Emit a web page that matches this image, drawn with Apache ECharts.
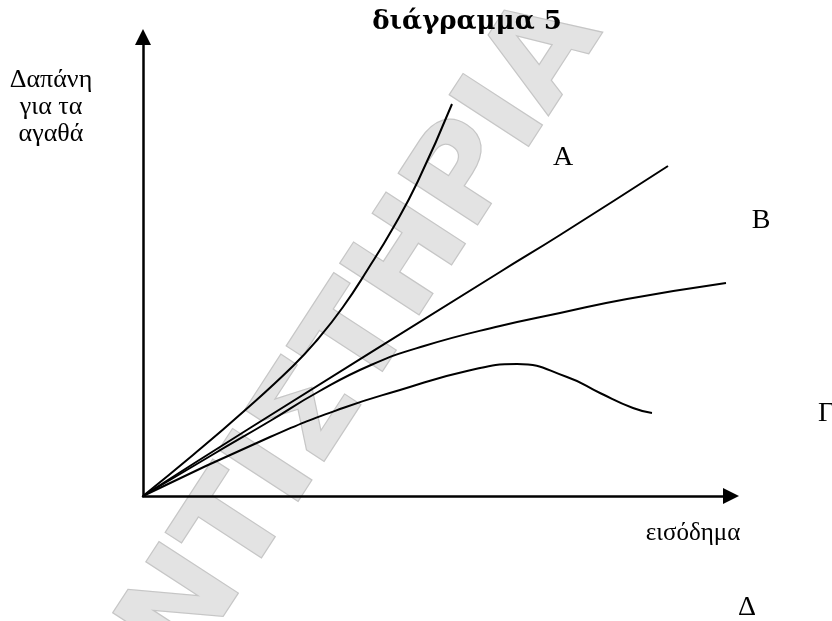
<!DOCTYPE html>
<html><head><meta charset="utf-8">
<script src="https://cdn.jsdelivr.net/npm/echarts@6/dist/echarts.min.js"></script>
<style>html,body{margin:0;padding:0;background:#fff}#c{width:832px;height:621px}</style>
</head><body><div id="c"></div>
<script>
// Values (x = income, y = spending), arbitrary units
const curveA = [[0,0],[50,41],[100,84],[150,130],[175,157],[200,189],[225,227],[250,268],[275,315],[309,392]];
const curveB = [[0,0],[107,68],[357,224],[417,261],[525,330]];
const curveG = [[0,0],[69,41],[127,75],[175,104],[228,131],[281,150],[357,170],[417,183],[484,197],[583,213]];
const curveD = [[0,0],[127,59],[200,88],[257,106],[324,125],[374,132],[424,119],[457,103],[490,88],[509,83]];
const titleText = 'διάγραμμα 5';
const yLabelLines = ['Δαπάνη', 'για τα', 'αγαθά'];
const xLabelText = 'εισόδημα';
const curveLetters = ['Α', 'Β', 'Γ', 'Δ'];
const watermarkText = 'ΦΡΟΝΤΙΣΤΗΡΙΑ';

const chart = echarts.init(document.getElementById('c'));
const serif = '"Liberation Serif", "DejaVu Serif", serif';
const lineSeries = (data) => ({
  type: 'line', data, smooth: 0.5, showSymbol: false, silent: true,
  lineStyle: { color: '#000', width: 2 }, z: 3
});
const txt = (text, x, y, size, weight, family) => ({
  type: 'text', x, y, z: 10,
  style: { text, font: (weight || 'normal') + ' ' + size + 'px ' + (family || serif), fill: '#000', align: 'center', verticalAlign: 'middle' }
});
const rot = 57 * Math.PI / 180;
chart.setOption({
  animation: false,
  grid: { left: 143, right: 101, top: 37, bottom: 125 },
  xAxis: {
    type: 'value', min: 0, max: 588,
    axisLine: { show: true, symbol: ['none', 'triangle'], symbolSize: [16, 16], lineStyle: { color: '#000', width: 2.5 } },
    axisTick: { show: false }, axisLabel: { show: false }, splitLine: { show: false }
  },
  yAxis: {
    type: 'value', min: 0, max: 459,
    axisLine: { show: true, symbol: ['none', 'triangle'], symbolSize: [16, 16], lineStyle: { color: '#000', width: 2.5 } },
    axisTick: { show: false }, axisLabel: { show: false }, splitLine: { show: false }
  },
  series: [lineSeries(curveA), lineSeries(curveB), lineSeries(curveG), lineSeries(curveD)],
  graphic: [
    {
      type: 'text', x: 574, y: 14, rotation: rot, z: -10,
      style: { text: watermarkText, font: 'bold 128px "DejaVu Sans", sans-serif',
        fill: '#e3e3e3', stroke: '#c6c6c6', lineWidth: 2.5, align: 'right', verticalAlign: 'middle' }
    },
    txt(titleText, 467, 22, 26, 'bold', '"DejaVu Serif", serif'),
    txt(yLabelLines[0], 51, 80, 26),
    txt(yLabelLines[1], 51, 107, 26),
    txt(yLabelLines[2], 51, 134, 26),
    txt(xLabelText, 693, 533, 25),
    txt(curveLetters[0], 563, 158, 28),
    txt(curveLetters[1], 761, 221, 28),
    txt(curveLetters[2], 826, 414, 28),
    txt(curveLetters[3], 747, 608, 28)
  ]
});
</script></body></html>
